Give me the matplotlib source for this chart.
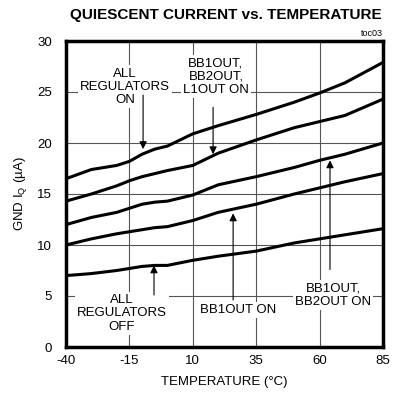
import matplotlib.pyplot as plt

plt.rcParams['font.family'] = ['Liberation Sans', 'DejaVu Sans']
plt.rcParams['mathtext.fontset'] = 'custom'
plt.rcParams['mathtext.rm'] = 'Liberation Sans'
plt.rcParams['mathtext.it'] = 'Liberation Sans'
plt.rcParams['axes.unicode_minus'] = False

# temperatures (°C) and GND IQ (uA)
temp = [-40, -30, -20, -15, -10, -5, 0, 10, 20, 35, 50, 60, 70, 85]
all_on = [16.5, 17.4, 17.8, 18.2, 18.9, 19.4, 19.7, 20.9, 21.7, 22.8, 24.0, 24.9, 25.9, 27.9]
bb1_bb2_l1_on = [14.3, 15.0, 15.8, 16.3, 16.7, 17.0, 17.3, 17.8, 19.0, 20.3, 21.5, 22.1, 22.7, 24.3]
bb1_bb2_on = [12.0, 12.7, 13.2, 13.6, 14.0, 14.2, 14.3, 14.9, 15.9, 16.7, 17.6, 18.3, 18.9, 20.0]
bb1_on = [10.0, 10.6, 11.1, 11.3, 11.5, 11.7, 11.8, 12.4, 13.2, 14.0, 15.0, 15.6, 16.2, 17.0]
all_off = [7.0, 7.2, 7.5, 7.7, 7.9, 8.0, 8.0, 8.5, 8.9, 9.4, 10.2, 10.6, 11.0, 11.6]

x_ticks = [-40, -15, 10, 35, 60, 85]
y_ticks = [0, 5, 10, 15, 20, 25, 30]

fig = plt.figure(figsize=(4, 4), dpi=100)
ax = fig.add_axes([0.165, 0.1325, 0.7925, 0.765])

for s in [all_on, bb1_bb2_l1_on, bb1_bb2_on, bb1_on, all_off]:
    ax.plot(temp, s, color='black', lw=2.2, zorder=3, solid_capstyle='butt')

ax.set_xlim(-40, 85)
ax.set_ylim(0, 30)
ax.set_xticks(x_ticks)
ax.set_yticks(y_ticks)
ax.grid(True, color='#555555', lw=0.8, zorder=0)
ax.set_axisbelow(True)
ax.tick_params(length=0, labelsize=9.5)
ax.tick_params(axis='y', pad=10)
ax.tick_params(axis='x', pad=6)
for sp in ax.spines.values():
    sp.set_linewidth(2.5)

ax.set_xlabel('TEMPERATURE (°C)', fontsize=9.5, labelpad=6)
ax.set_ylabel('GND I$_Q$ (µA)', fontsize=9.5, labelpad=6)
fig.text(0.565, 0.962, 'QUIESCENT CURRENT vs. TEMPERATURE', ha='center', va='center',
         fontsize=11, fontweight='bold')
fig.text(0.957, 0.917, 'toc03', ha='right', va='center', fontsize=6.5)

box = dict(facecolor='white', edgecolor='none', pad=1.5)
arrow = dict(arrowstyle='-|>', lw=0.8, color='black', mutation_scale=11, shrinkA=0, shrinkB=0)
fs = 9.5

ax.text(-16.7, 25.5, 'ALL\nREGULATORS\nON', ha='center', va='center', fontsize=fs,
        linespacing=1.15, bbox=box, zorder=2)
ax.annotate('', xy=(-9.6, 19.4), xytext=(-9.6, 24.7), arrowprops=arrow, zorder=4)

ax.text(19.1, 26.5, 'BB1OUT,\nBB2OUT,\nL1OUT ON', ha='center', va='center', fontsize=fs,
        linespacing=1.15, bbox=box, zorder=2)
ax.annotate('', xy=(18.0, 18.9), xytext=(18.0, 23.5), arrowprops=arrow, zorder=4)

ax.text(-17.9, 3.3, 'ALL\nREGULATORS\nOFF', ha='center', va='center', fontsize=fs,
        linespacing=1.15, bbox=box, zorder=2)
ax.annotate('', xy=(-5.3, 8.0), xytext=(-5.3, 5.1), arrowprops=arrow, zorder=4)

ax.text(27.8, 3.6, 'BB1OUT ON', ha='center', va='center', fontsize=fs, bbox=box, zorder=2)
ax.annotate('', xy=(25.9, 13.1), xytext=(25.9, 4.6), arrowprops=arrow, zorder=4)

ax.text(65.3, 5.1, 'BB1OUT,\nBB2OUT ON', ha='center', va='center', fontsize=fs,
        linespacing=1.15, bbox=box, zorder=2)
ax.annotate('', xy=(64.1, 18.3), xytext=(64.1, 7.6), arrowprops=arrow, zorder=4)

fig.savefig('out.png', dpi=100)
